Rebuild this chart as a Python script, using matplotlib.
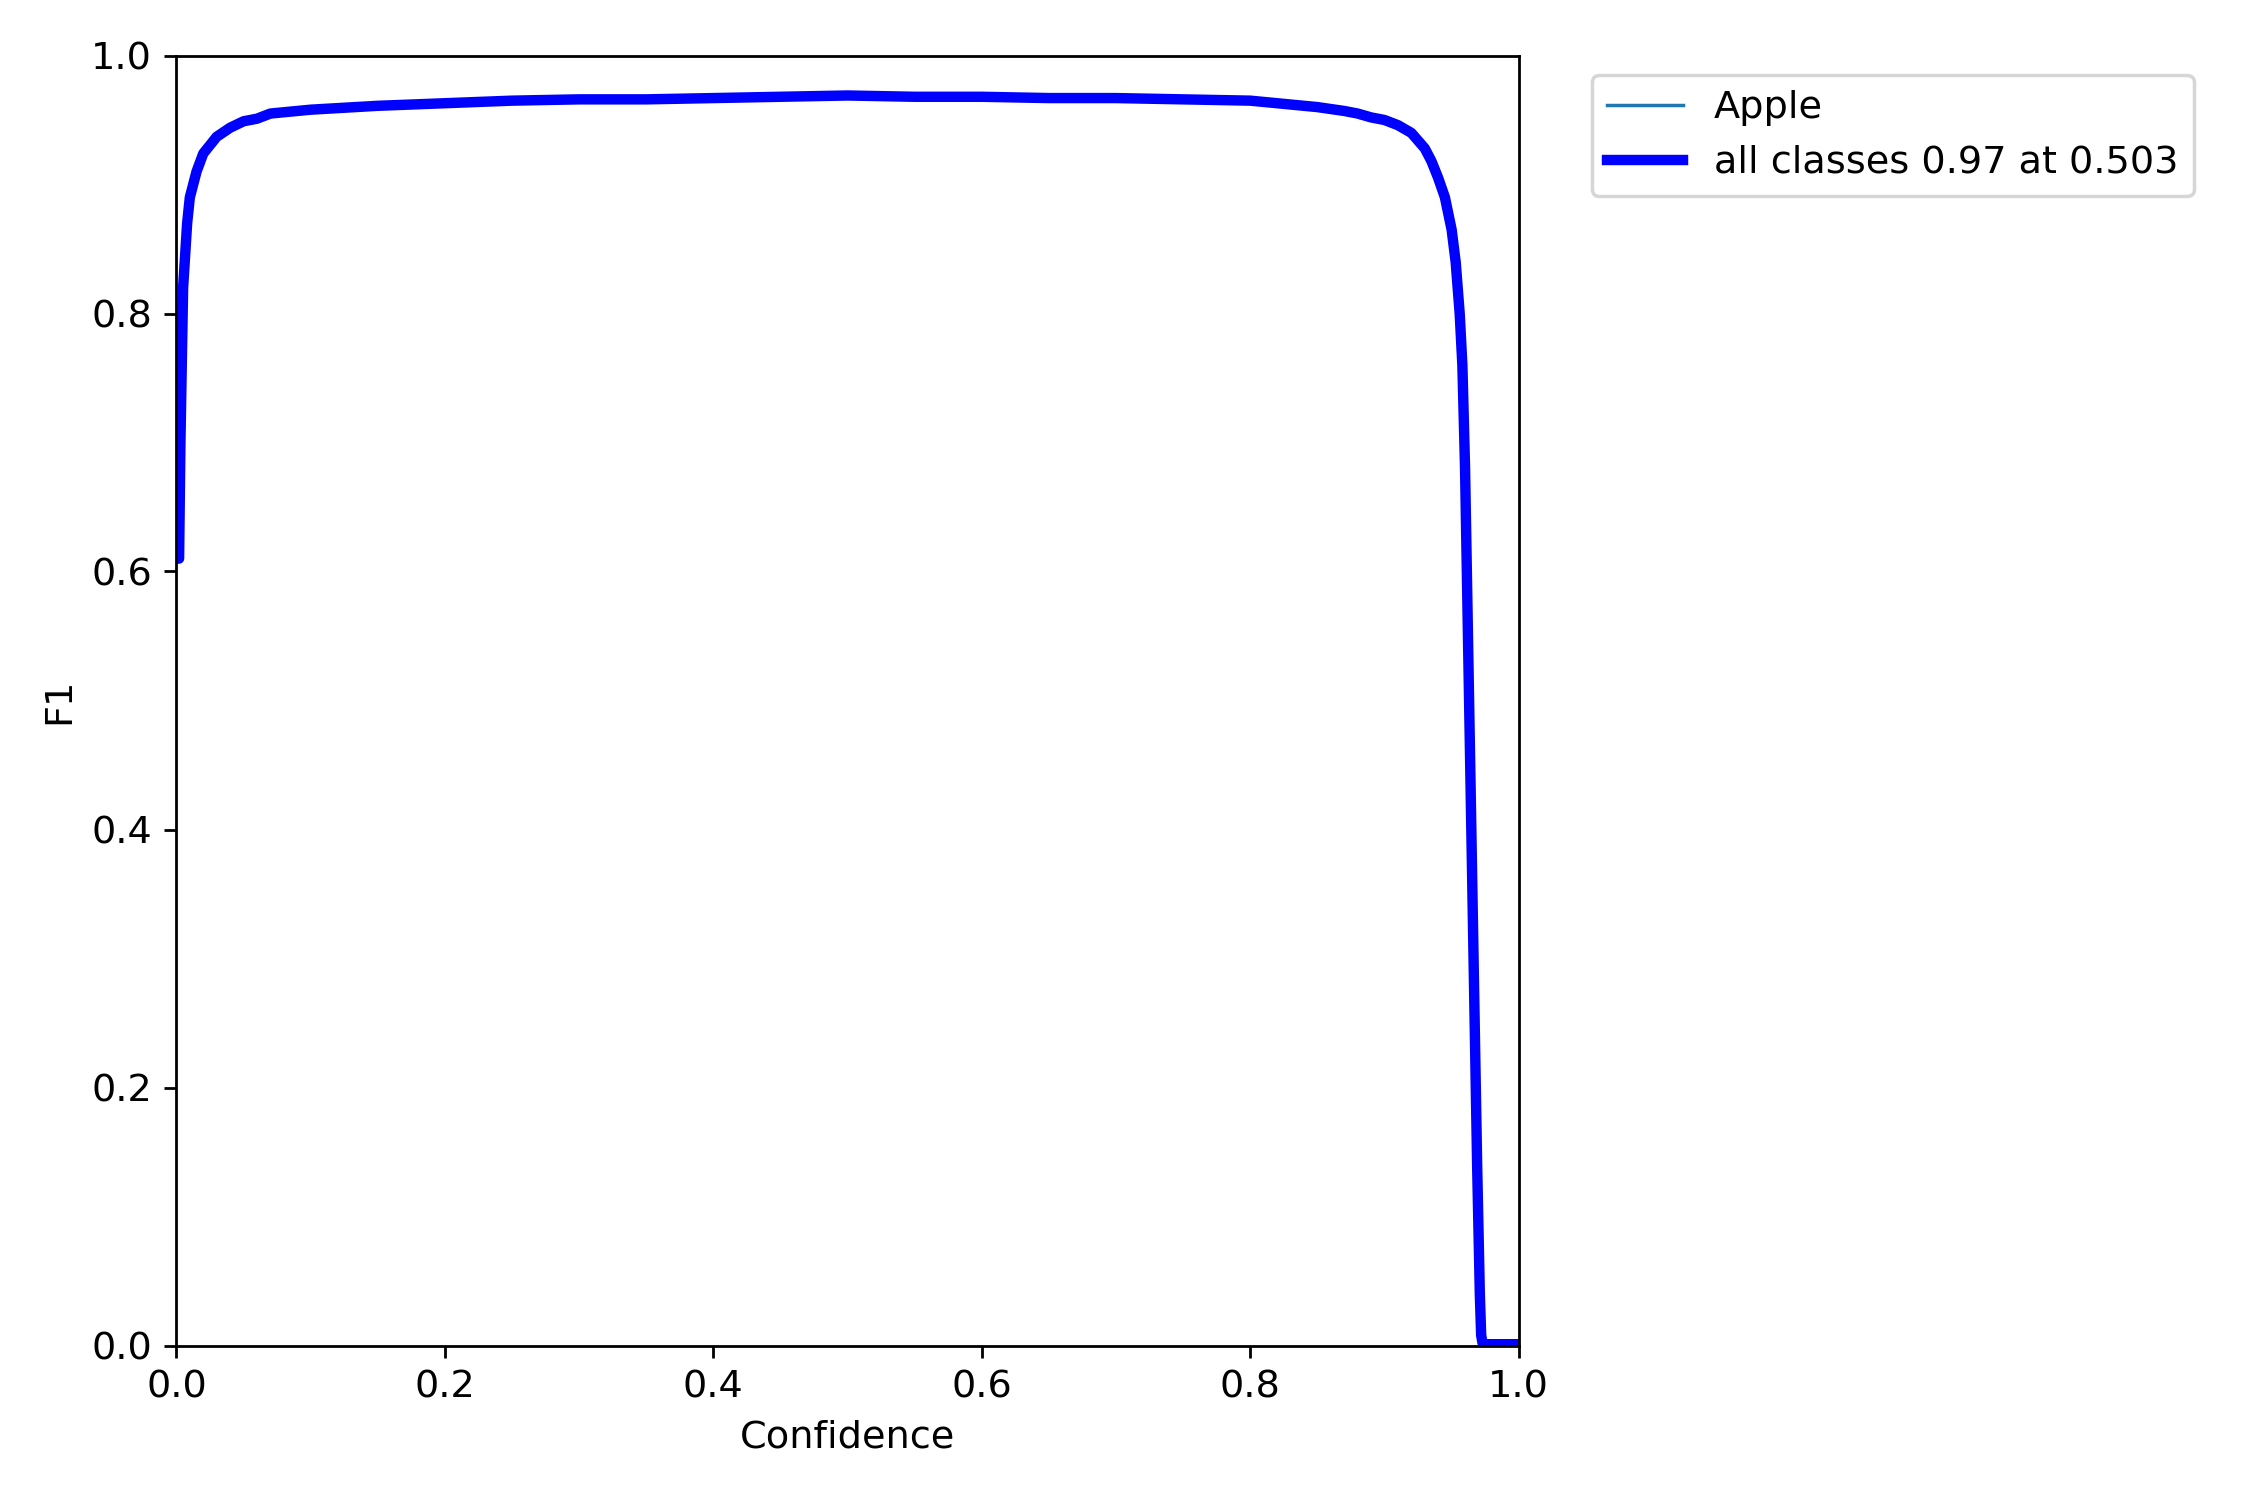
import numpy as np
import matplotlib.pyplot as plt

# F1-confidence curve values
conf = np.array([0.0, 0.002, 0.003, 0.005, 0.008, 0.01, 0.015, 0.02, 0.03, 0.04,
                 0.05, 0.06, 0.07, 0.08, 0.1, 0.15, 0.2, 0.25, 0.3, 0.35, 0.4,
                 0.45, 0.5, 0.55, 0.6, 0.65, 0.7, 0.75, 0.8, 0.82, 0.85, 0.87,
                 0.88, 0.89, 0.9, 0.91, 0.92, 0.93, 0.935, 0.94, 0.945, 0.95,
                 0.953, 0.956, 0.958, 0.96, 0.962, 0.964, 0.966, 0.968, 0.969,
                 0.97, 0.971, 0.972, 0.973, 0.975, 0.98, 1.0])
f1 = np.array([0.61, 0.61, 0.70, 0.82, 0.87, 0.89, 0.91, 0.924, 0.937, 0.944,
               0.949, 0.951, 0.955, 0.956, 0.958, 0.961, 0.963, 0.965, 0.966, 0.966,
               0.967, 0.968, 0.969, 0.968, 0.968, 0.967, 0.967, 0.966, 0.965, 0.963,
               0.960, 0.957, 0.955, 0.952, 0.950, 0.946, 0.940, 0.928, 0.918, 0.905,
               0.89, 0.865, 0.84, 0.80, 0.76, 0.68, 0.56, 0.44, 0.32, 0.20, 0.14,
               0.09, 0.04, 0.008, 0.002, 0.001, 0.001, 0.001])

class_names = ["Apple"]
best_f1 = 0.97
best_conf = 0.503

plt.rcParams["font.size"] = 11

fig, ax = plt.subplots(1, 1, figsize=(9, 6))
fig.subplots_adjust(left=0.0784, right=0.675, top=0.963, bottom=0.103)
ax.plot(conf, f1, linewidth=1, label=class_names[0])
ax.plot(conf, f1, linewidth=3, color="blue",
        label=f"all classes {best_f1:.2f} at {best_conf:.3f}")
ax.set_xlabel("Confidence")
ax.set_ylabel("F1")
ax.set_xlim(0, 1)
ax.set_ylim(0, 1)
ax.legend(bbox_to_anchor=(1.04, 1), loc="upper left")
fig.savefig("out.png", dpi=250)
